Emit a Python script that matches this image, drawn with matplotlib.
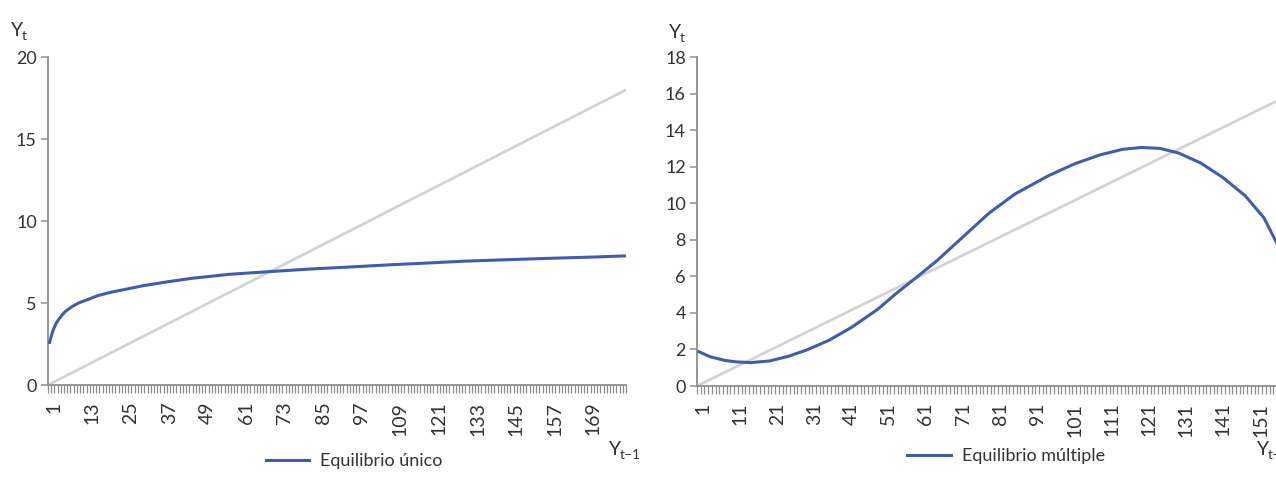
import numpy as np
import matplotlib
matplotlib.use("Agg")
from matplotlib import pyplot as plt
from matplotlib.ticker import FixedLocator
from matplotlib.transforms import ScaledTranslation

plt.rcParams['font.family'] = ['Lato', 'DejaVu Sans']

# left panel: unique equilibrium
n_left = 180
left_cat = [1, 2, 3, 4, 5, 6, 8, 10, 13, 16, 20, 25, 30, 37, 45, 57, 70, 82,
            95, 107, 120, 130, 145, 156, 170, 180]
left_val = [2.6, 3.3, 3.75, 4.05, 4.3, 4.5, 4.78, 5.0, 5.22, 5.45, 5.65, 5.85,
            6.05, 6.27, 6.5, 6.75, 6.92, 7.07, 7.2, 7.33, 7.45, 7.55, 7.65,
            7.72, 7.8, 7.87]
left_diag_x = [0, 180]
left_diag_y = [0, 18]
left_ticklabels = list(range(1, 170, 12))

# right panel: multiple equilibria (cut at the picture edge)
n_right = 170
right_cat = [1, 4, 8, 11, 15, 20, 25, 30, 36, 42, 49, 54, 60, 65, 72, 79, 86,
             95, 102, 109, 115, 120, 125, 130, 136, 142, 148, 153, 156, 158]
right_val = [1.88, 1.6, 1.4, 1.32, 1.28, 1.37, 1.62, 1.97, 2.5, 3.2, 4.18,
             5.05, 6.02, 6.85, 8.15, 9.45, 10.5, 11.5, 12.15, 12.65, 12.95,
             13.05, 13.0, 12.75, 12.2, 11.4, 10.4, 9.2, 8.0, 7.2]
right_diag_x = [0, 170]
right_diag_y = [0, 17]
right_ticklabels = list(range(1, 152, 10))

blue = '#3F5DAE'
grey_line = '#D2D2D2'
axis_col = '#8E8E8E'
text_col = '#333333'


def setup_axis(ax, n, ymax, ystep, labels):
    ax.set_xlim(0, n)
    ax.set_ylim(0, ymax)
    for s in ['top', 'right']:
        ax.spines[s].set_visible(False)
    for s in ['left', 'bottom']:
        ax.spines[s].set_color(axis_col)
        ax.spines[s].set_linewidth(1.3)
    ax.set_yticks(np.arange(0, ymax + 0.1, ystep))
    ax.tick_params(axis='y', length=5, width=1.1, color=axis_col,
                   labelsize=13, labelcolor=text_col, pad=3)
    ax.set_xticks([c - 0.5 for c in labels])
    ax.set_xticklabels([str(c) for c in labels], rotation=90)
    ax.xaxis.set_minor_locator(FixedLocator(np.arange(0, n + 1)))
    ax.tick_params(axis='x', which='major', length=0, labelsize=14,
                   labelcolor=text_col, pad=12)
    ax.tick_params(axis='x', which='minor', length=6, width=0.9,
                   color=axis_col)
    shift = ScaledTranslation(4 / 100, 0, fig.dpi_scale_trans)
    for lab in ax.get_xticklabels():
        lab.set_transform(lab.get_transform() + shift)


def sub_label(x, y, sub):
    # "Y" with a small subscript, positions in picture pixels
    fig.text(x / 1276, 1 - y / 498, 'Y', fontsize=14, color=text_col)
    fig.text((x + 11) / 1276, 1 - (y + 4) / 498, sub, fontsize=10,
             color=text_col)


fig = plt.figure(figsize=(12.76, 4.98), dpi=100)

ax1 = fig.add_axes([48 / 1276, 113 / 498, 578 / 1276, 328 / 498])
ax1.plot(left_diag_x, left_diag_y, color=grey_line, lw=1.9, zorder=2)
ax1.plot([c - 0.5 for c in left_cat], left_val, color=blue, lw=2.2,
         label='Equilibrio único', zorder=3)
setup_axis(ax1, n_left, 20, 5, left_ticklabels)
ax1.legend(loc='center', bbox_to_anchor=(354 / 1276, 1 - 461 / 498),
           bbox_transform=fig.transFigure, frameon=False, fontsize=13,
           handlelength=2.4, handletextpad=0.6, labelcolor=text_col)

ax2 = fig.add_axes([697 / 1276, 112 / 498, 632 / 1276, 329 / 498])
ax2.plot(right_diag_x, right_diag_y, color=grey_line, lw=1.9, zorder=2)
ax2.plot([c - 0.5 for c in right_cat], right_val, color=blue, lw=2.2,
         label='Equilibrio múltiple', zorder=3)
setup_axis(ax2, n_right, 18, 2, right_ticklabels)
ax2.legend(loc='center', bbox_to_anchor=(1006 / 1276, 1 - 456 / 498),
           bbox_transform=fig.transFigure, frameon=False, fontsize=13,
           handlelength=2.4, handletextpad=0.6, labelcolor=text_col)

# axis titles
sub_label(11, 36, 't')
sub_label(669, 38, 't')
sub_label(609, 455, 't\u20131')
sub_label(1257, 455, 't\u20131')

fig.savefig('out.png', dpi=100)
